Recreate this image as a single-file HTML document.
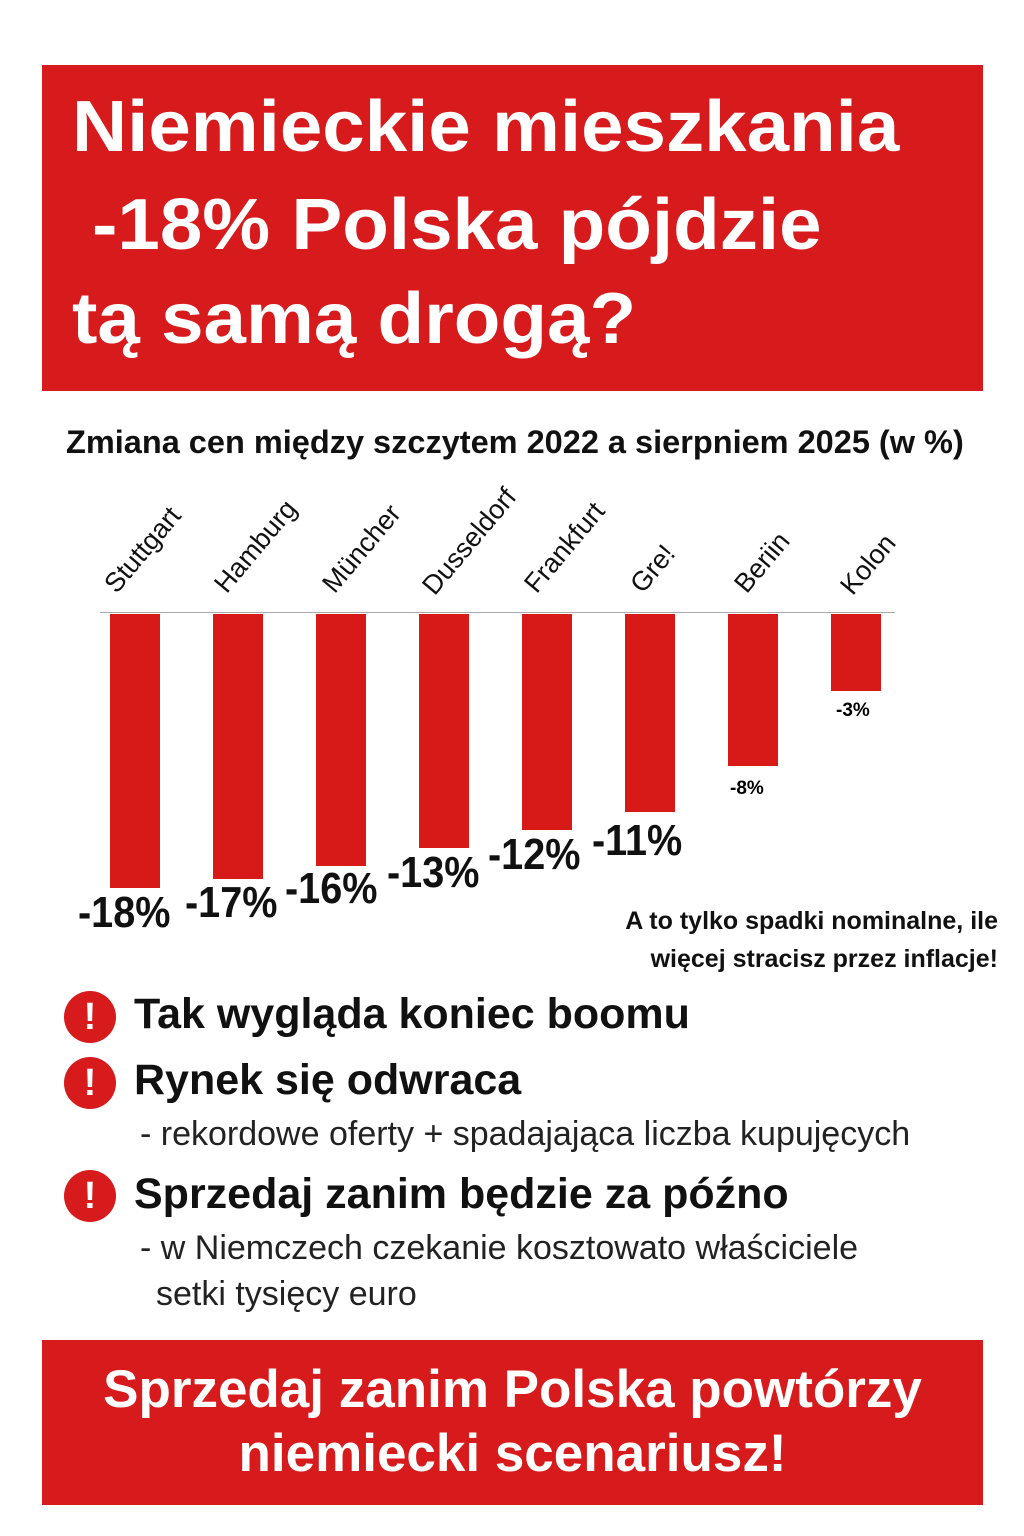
<!DOCTYPE html>
<html><head><meta charset="utf-8"><style>
body{margin:0;width:1024px;height:1536px;background:#fff;position:relative;overflow:hidden;font-family:"Liberation Sans","DejaVu Sans",sans-serif}
.a{position:absolute;white-space:nowrap}
.box{position:absolute;background:#d71a1c}
.t{color:#fff;font-weight:bold;font-size:72px;left:72px;transform:scaleX(1.06);transform-origin:0 0}
.bar{position:absolute;background:#d71a17;width:50px;top:614px}
.lab{position:absolute;font-size:27px;color:#111;transform-origin:0 100%;transform:rotate(-50deg);white-space:nowrap}
.v{position:absolute;font-weight:bold;font-size:44px;color:#111;transform:scaleX(0.9);transform-origin:0 0}
.ic{position:absolute;left:64px;width:52px;height:52px;border-radius:50%;background:#d71a1c;color:#fff;font-weight:bold;font-size:38px;text-align:center;line-height:52px}
.h{font-weight:bold;font-size:43px;color:#111;left:134px}
.s{font-size:34px;color:#222}
</style></head><body>
<div class="box" style="left:42px;top:65px;width:941px;height:326px"></div>
<div class="a t" style="top:86px">Niemieckie mieszkania</div>
<div class="a t" style="top:184px;left:92px">-18% Polska pójdzie</div>
<div class="a t" style="top:278px">tą samą drogą?</div>
<div class="a" style="left:66px;top:424px;font-size:32.5px;font-weight:bold;color:#111">Zmiana cen między szczytem 2022 a sierpniem 2025 (w %)</div>
<div class="a" style="left:100px;top:612px;width:795px;height:1px;background:#aaa"></div>
<div class="bar" style="left:110px;height:274px"></div>
<div class="bar" style="left:213px;height:265px"></div>
<div class="bar" style="left:316px;height:252px"></div>
<div class="bar" style="left:419px;height:234px"></div>
<div class="bar" style="left:522px;height:216px"></div>
<div class="bar" style="left:625px;height:198px"></div>
<div class="bar" style="left:728px;height:152px"></div>
<div class="bar" style="left:831px;height:77px"></div>
<div class="lab" style="left:122px;top:568px">Stuttgart</div>
<div class="lab" style="left:232px;top:568px">Hamburg</div>
<div class="lab" style="left:340px;top:568px">Müncher</div>
<div class="lab" style="left:440px;top:570px">Dusseldorf</div>
<div class="lab" style="left:542px;top:568px">Frankfurt</div>
<div class="lab" style="left:648px;top:568px">Gre!</div>
<div class="lab" style="left:752px;top:568px">Beriin</div>
<div class="lab" style="left:858px;top:570px">Kolon</div>
<div class="v" style="left:78px;top:888px">-18%</div>
<div class="v" style="left:185px;top:878px">-17%</div>
<div class="v" style="left:285px;top:864px">-16%</div>
<div class="v" style="left:387px;top:848px">-13%</div>
<div class="v" style="left:488px;top:830px">-12%</div>
<div class="v" style="left:592px;top:816px">-11%</div>
<div class="a" style="left:730px;top:778px;font-size:19px;font-weight:bold">-8%</div>
<div class="a" style="left:836px;top:700px;font-size:19px;font-weight:bold">-3%</div>
<div class="a" style="right:26px;top:902px;font-size:25px;font-weight:bold;color:#111;text-align:right;line-height:38px">A to tylko spadki nominalne, ile<br>więcej stracisz przez inflacje!</div>
<div class="ic" style="top:991px">!</div>
<div class="ic" style="top:1057px">!</div>
<div class="ic" style="top:1170px">!</div>
<div class="a h" style="top:990px">Tak wygląda koniec boomu</div>
<div class="a h" style="top:1056px">Rynek się odwraca</div>
<div class="a s" style="left:140px;top:1115px">- rekordowe oferty + spadajająca liczba kupujęcych</div>
<div class="a h" style="top:1170px">Sprzedaj zanim będzie za późno</div>
<div class="a s" style="left:140px;top:1229px">- w Niemczech czekanie kosztowato właściciele</div>
<div class="a s" style="left:156px;top:1275px">setki tysięcy euro</div>
<div class="box" style="left:42px;top:1340px;width:941px;height:165px"></div>
<div class="a" style="left:42px;width:941px;top:1358px;text-align:center;color:#fff;font-weight:bold;font-size:53px;line-height:64px">Sprzedaj zanim Polska powtórzy<br>niemiecki scenariusz!</div>
</body></html>
